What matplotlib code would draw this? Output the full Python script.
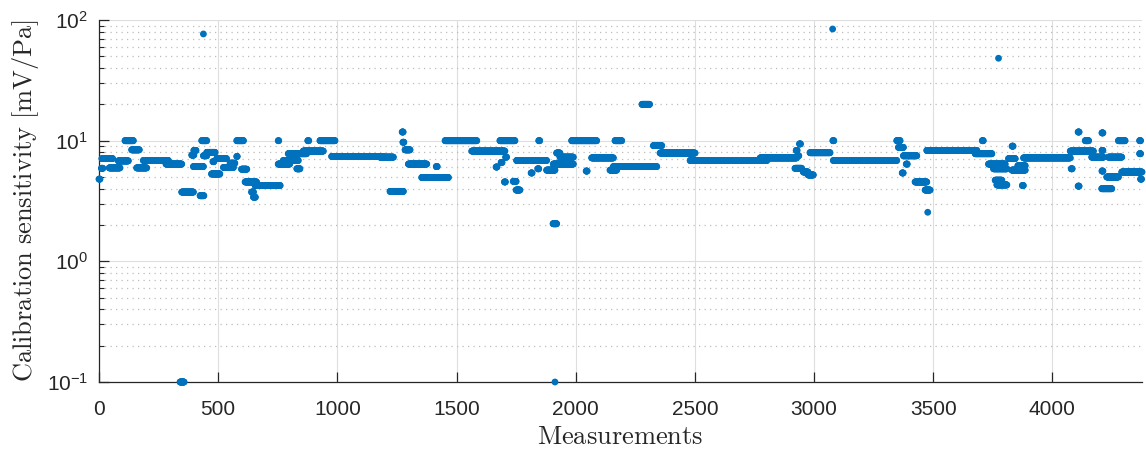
import numpy as np
import matplotlib
matplotlib.use("Agg")
import matplotlib.pyplot as plt
from matplotlib.ticker import LogLocator, NullFormatter, FixedLocator

# ---- data: plateaus of repeated calibration values (start index, stop index, level) ----
seg_start = [0, 10, 12, 43, 81, 109, 137, 158, 186, 281, 340, 347, 389, 398, 396, 424, 431, 438, 452,
             472, 478, 494, 522, 550, 578, 578, 598, 613, 640, 648, 655, 752, 752, 773, 794, 830, 857,
             876, 927, 976, 1179, 1221, 1272, 1275, 1284, 1298, 1354, 1415, 1452, 1564, 1682, 1666,
             1687, 1701, 1706, 1738, 1750, 1752, 1813, 1845, 1841, 1878, 1920, 1906, 1934, 1905, 1913,
             1983, 2044, 2067, 2144, 2158, 2165, 2278, 2326, 2354, 2480, 2774, 2939, 2925, 2932, 2920,
             2955, 2975, 2983, 3079, 3081, 3347, 3354, 3375, 3387, 3370, 3424, 3466, 3477, 3473, 3676,
             3706, 3732, 3753, 3760, 3767, 3816, 3831, 3830, 3855, 3874, 3879, 4079, 4075, 4108, 4108,
             4138, 4165, 4208, 4208, 4208, 4207, 4228, 4235, 4277, 4291, 4366, 4366, 4370]
seg_stop = [4, 16, 57, 88, 123, 144, 169, 200, 291, 347, 357, 396, 398, 407, 438, 440, 452, 452, 487,
            507, 482, 535, 564, 570, 580, 606, 620, 661, 648, 656, 760, 754, 800, 836, 871, 843, 941,
            880, 990, 1193, 1235, 1277, 1276, 1279, 1305, 1375, 1466, 1419, 1585, 1703, 1745, 1670,
            1691, 1705, 1710, 1750, 1766, 1878, 1817, 1849, 1845, 1913, 1934, 1990, 1990, 1920, 1913,
            2088, 2048, 2158, 2172, 2340, 2193, 2310, 2361, 2501, 2802, 2927, 2943, 2929, 2936, 2948,
            2975, 2997, 3067, 3083, 3347, 3361, 3375, 3431, 3391, 3374, 3473, 3487, 3477, 3683, 3746,
            3710, 3802, 3809, 3788, 3809, 3844, 3835, 3886, 3886, 3878, 4075, 4083, 4172, 4112, 4112,
            4152, 4214, 4212, 4212, 4212, 4249, 4277, 4291, 4305, 4376, 4370, 4370, 4374]
seg_level = [4.8, 5.9, 7.1, 5.95, 6.8, 10.0, 8.4, 5.95, 6.85, 6.4, 0.1, 3.75, 7.6, 8.3, 6.1, 3.5, 10.0, 7.5, 8.0,
             5.3, 6.7, 7.1, 6.0, 6.5, 7.4, 10.0, 5.8, 4.55, 3.75, 3.4, 4.25, 10.0, 6.4, 6.85, 7.8, 5.85, 8.2,
             10.0, 10.0, 7.4, 7.3, 3.8, 11.8, 9.7, 8.4, 6.4, 4.95, 6.1, 10.0, 8.2, 10.0, 6.05,
             6.6, 4.55, 7.3, 4.6, 3.9, 6.85, 5.4, 10.0, 5.85, 5.7, 7.9, 6.4, 7.3, 2.05, 0.1,
             10.0, 5.6, 7.2, 5.7, 6.1, 10.0, 20.0, 9.1, 7.9, 6.85, 7.2, 9.4, 8.3, 7.5, 5.9,
             5.5, 5.2, 7.95, 10.0, 6.85, 10.0, 8.8, 7.5, 6.4, 5.4, 4.55, 3.9, 2.55, 8.3, 7.8,
             10.0, 6.4, 5.85, 4.7, 4.3, 7.1, 9.0, 5.7, 6.2, 4.25, 7.2, 5.85, 8.2, 11.8, 4.2,
             10.0, 7.3, 11.6, 8.3, 5.6, 4.0, 5.0, 7.3, 10.0, 5.5, 10.0, 7.8, 4.8]

# isolated outliers
outlier_x = [438, 3078, 3774]
outlier_y = [76.6, 84.2, 48.2]

x_max = 4376

# ---- build the point series from the plateaus ----
xs, ys = [], []
for a, b, v in zip(seg_start, seg_stop, seg_level):
    idx = np.arange(a, b + 1)
    xs.append(idx)
    ys.append(np.full(idx.shape, v, dtype=float))
xs.append(np.array(outlier_x))
ys.append(np.array(outlier_y, dtype=float))
x = np.concatenate(xs)
y = np.concatenate(ys)

# ---- style ----
plt.rcParams['font.family'] = ['Liberation Sans', 'DejaVu Sans']
dark = '#262626'

fig = plt.figure(figsize=(11.46, 4.5), dpi=100)
ax = fig.add_axes([99 / 1146, 1 - 382 / 450, (1142 - 99) / 1146, (382 - 20) / 450])

ax.scatter(x, y, s=24, color='#0072BD', edgecolors='none', zorder=3, clip_on=False)

ax.set_yscale('log')
ax.set_ylim(0.1, 100)
ax.set_xlim(0, x_max)
ax.xaxis.set_major_locator(FixedLocator(np.arange(0, 4001, 500)))
ax.yaxis.set_major_locator(LogLocator(base=10, numticks=10))
ax.yaxis.set_minor_locator(LogLocator(base=10, subs=np.arange(2, 10), numticks=20))
ax.yaxis.set_minor_formatter(NullFormatter())

ax.grid(True, which='major', color='#dedede', linewidth=0.8, linestyle='-', zorder=0)
ax.grid(True, which='minor', axis='y', color='#bdbdbd', linewidth=0.9,
        linestyle=(0, (1, 3.4)), zorder=0)
ax.set_axisbelow(True)

for s in ['top', 'right']:
    ax.spines[s].set_visible(False)
for s in ['left', 'bottom']:
    ax.spines[s].set_color(dark)
    ax.spines[s].set_linewidth(0.9)

ax.tick_params(axis='x', which='major', direction='in', length=7.5, width=0.9,
               color=dark, labelcolor=dark, labelsize=15, pad=13)
ax.tick_params(axis='y', which='major', direction='in', length=7.5, width=0.9,
               color=dark, labelcolor=dark, labelsize=15, pad=8)
ax.tick_params(axis='y', which='minor', direction='in', length=3.8, width=0.8, color=dark)
ax.tick_params(axis='x', which='minor', bottom=False)

ax.set_xlabel(r'$\mathrm{Measurements}$', fontsize=19, color=dark, labelpad=4,
              math_fontfamily='cm')
ax.set_ylabel(r'$\mathrm{Calibration\ sensitivity\ [mV/Pa]}$', fontsize=19, color=dark,
              math_fontfamily='cm')
ax.yaxis.set_label_coords(-0.056, 0.5)

fig.savefig('out.png', dpi=100)
